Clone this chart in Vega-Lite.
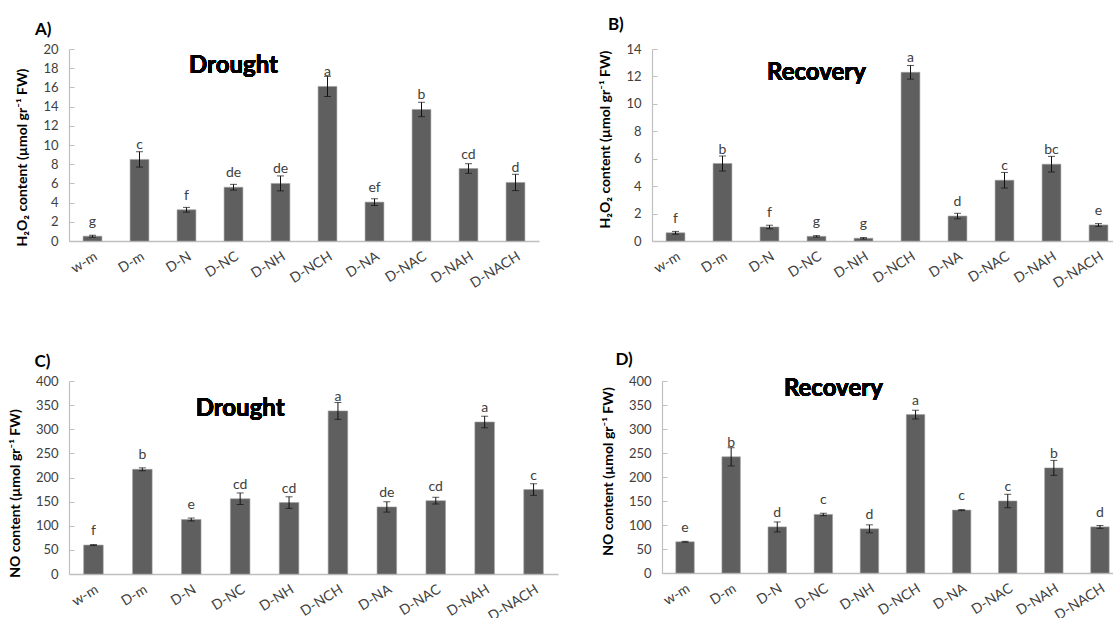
{
  "$schema": "https://vega.github.io/schema/vega-lite/v6.json",
  "padding": {"left": 8, "top": 16, "right": 0, "bottom": 0},
  "background": "white",
  "datasets": {
    "h2o2_drought": [
      {"t": "w-m", "mean": 0.5, "err": 0.1, "letter": "g"},
      {"t": "D-m", "mean": 8.5, "err": 0.8, "letter": "c"},
      {"t": "D-N", "mean": 3.25, "err": 0.25, "letter": "f"},
      {"t": "D-NC", "mean": 5.6, "err": 0.3, "letter": "de"},
      {"t": "D-NH", "mean": 6.0, "err": 0.78, "letter": "de"},
      {"t": "D-NCH", "mean": 16.1, "err": 1.05, "letter": "a"},
      {"t": "D-NA", "mean": 4.05, "err": 0.35, "letter": "ef"},
      {"t": "D-NAC", "mean": 13.7, "err": 0.75, "letter": "b"},
      {"t": "D-NAH", "mean": 7.55, "err": 0.5, "letter": "cd"},
      {"t": "D-NACH", "mean": 6.1, "err": 0.85, "letter": "d"}
    ],
    "h2o2_recovery": [
      {"t": "w-m", "mean": 0.6, "err": 0.1, "letter": "f"},
      {"t": "D-m", "mean": 5.65, "err": 0.55, "letter": "b"},
      {"t": "D-N", "mean": 1.02, "err": 0.13, "letter": "f"},
      {"t": "D-NC", "mean": 0.34, "err": 0.05, "letter": "g"},
      {"t": "D-NH", "mean": 0.2, "err": 0.05, "letter": "g"},
      {"t": "D-NCH", "mean": 12.3, "err": 0.5, "letter": "a"},
      {"t": "D-NA", "mean": 1.82, "err": 0.2, "letter": "d"},
      {"t": "D-NAC", "mean": 4.43, "err": 0.57, "letter": "c"},
      {"t": "D-NAH", "mean": 5.6, "err": 0.57, "letter": "bc"},
      {"t": "D-NACH", "mean": 1.17, "err": 0.1, "letter": "e"}
    ],
    "no_drought": [
      {"t": "w-m", "mean": 60, "err": 1, "letter": "f"},
      {"t": "D-m", "mean": 217, "err": 3, "letter": "b"},
      {"t": "D-N", "mean": 113, "err": 3, "letter": "e"},
      {"t": "D-NC", "mean": 156, "err": 12, "letter": "cd"},
      {"t": "D-NH", "mean": 148, "err": 12, "letter": "cd"},
      {"t": "D-NCH", "mean": 338, "err": 17.5, "letter": "a"},
      {"t": "D-NA", "mean": 139, "err": 10.7, "letter": "de"},
      {"t": "D-NAC", "mean": 152, "err": 7, "letter": "cd"},
      {"t": "D-NAH", "mean": 315, "err": 12, "letter": "a"},
      {"t": "D-NACH", "mean": 175, "err": 12, "letter": "c"}
    ],
    "no_recovery": [
      {"t": "w-m", "mean": 65, "err": 1, "letter": "e"},
      {"t": "D-m", "mean": 242, "err": 19, "letter": "b"},
      {"t": "D-N", "mean": 96, "err": 10.4, "letter": "d"},
      {"t": "D-NC", "mean": 122, "err": 2.5, "letter": "c"},
      {"t": "D-NH", "mean": 92, "err": 8.3, "letter": "d"},
      {"t": "D-NCH", "mean": 330, "err": 9, "letter": "a"},
      {"t": "D-NA", "mean": 131, "err": 1, "letter": "c"},
      {"t": "D-NAC", "mean": 150, "err": 14, "letter": "c"},
      {"t": "D-NAH", "mean": 219, "err": 15.6, "letter": "b"},
      {"t": "D-NACH", "mean": 96, "err": 3, "letter": "d"}
    ]
  },
  "vconcat": [
    {
      "hconcat": [
        {
          "title": {"text": "A)", "offset": 4, "dx": 19},
          "width": 470, "height": 192,
          "data": {"name": "h2o2_drought"},
          "encoding": {
            "x": {"field": "t", "type": "nominal", "sort": null, "scale": {"paddingInner": 0.6, "paddingOuter": 0.3}},
            "y": {"field": "mean", "type": "quantitative", "scale": {"domain": [0, 20]},
                  "axis": {"title": "H₂O₂ content (µmol gr⁻¹ FW)", "titleY": 108, "values": [0,2,4,6,8,10,12,14,16,18,20]}}
          },
          "layer": [
            {"mark": {"type": "bar", "color": "#5f5f5f", "stroke": "#a0a0a0", "strokeWidth": 0.6}},
            {"mark": {"type": "errorbar", "color": "#111111", "ticks": {"size": 7}}, "encoding": {"yError": {"field": "err"}}},
            {"mark": {"type": "text", "dy": -10, "baseline": "alphabetic", "fontSize": 14, "font": "Lato", "color": "#404040"}, "encoding": {"text": {"field": "letter"}}},
            {"mark": {"type": "text", "text": "Drought", "fontSize": 24, "fontWeight": "bold", "font": "Lato", "color": "#000000"},
             "encoding": {"x": {"datum": "D-NC"}, "y": {"datum": 18.2}}}
          ]
        },
        {
          "title": {"text": "B)", "offset": 9, "dx": 9},
          "width": 470, "height": 192,
          "data": {"name": "h2o2_recovery"},
          "encoding": {
            "x": {"field": "t", "type": "nominal", "sort": null, "scale": {"paddingInner": 0.6, "paddingOuter": 0.3}},
            "y": {"field": "mean", "type": "quantitative", "scale": {"domain": [0, 14]},
                  "axis": {"title": "H₂O₂ content (µmol gr⁻¹ FW)", "titleY": 90, "values": [0,2,4,6,8,10,12,14]}}
          },
          "layer": [
            {"mark": {"type": "bar", "color": "#5f5f5f", "stroke": "#a0a0a0", "strokeWidth": 0.6}},
            {"mark": {"type": "errorbar", "color": "#111111", "ticks": {"size": 7}}, "encoding": {"yError": {"field": "err"}}},
            {"mark": {"type": "text", "dy": -10, "baseline": "alphabetic", "fontSize": 14, "font": "Lato", "color": "#404040"}, "encoding": {"text": {"field": "letter"}}},
            {"mark": {"type": "text", "text": "Recovery", "fontSize": 24, "fontWeight": "bold", "font": "Lato", "color": "#000000"},
             "encoding": {"x": {"datum": "D-NC"}, "y": {"datum": 12.25}}}
          ]
        }
      ],
      "spacing": 59
    },
    {
      "hconcat": [
        {
          "title": {"text": "C)", "offset": 4, "dx": 26},
          "width": 489, "height": 193,
          "data": {"name": "no_drought"},
          "encoding": {
            "x": {"field": "t", "type": "nominal", "sort": null, "scale": {"paddingInner": 0.6, "paddingOuter": 0.3}},
            "y": {"field": "mean", "type": "quantitative", "scale": {"domain": [0, 400]},
                  "axis": {"title": "NO content (µmol gr⁻¹ FW)", "titleY": 112, "values": [0,50,100,150,200,250,300,350,400]}}
          },
          "layer": [
            {"mark": {"type": "bar", "color": "#5f5f5f", "stroke": "#a0a0a0", "strokeWidth": 0.6}},
            {"mark": {"type": "errorbar", "color": "#111111", "ticks": {"size": 7}}, "encoding": {"yError": {"field": "err"}}},
            {"mark": {"type": "text", "dy": -10, "baseline": "alphabetic", "fontSize": 14, "font": "Lato", "color": "#404040"}, "encoding": {"text": {"field": "letter"}}},
            {"mark": {"type": "text", "text": "Drought", "fontSize": 24, "fontWeight": "bold", "font": "Lato", "color": "#000000"},
             "encoding": {"x": {"datum": "D-NC"}, "y": {"datum": 342}}}
          ]
        },
        {
          "title": {"text": "D)", "offset": 6, "dx": 14},
          "width": 461, "height": 192,
          "data": {"name": "no_recovery"},
          "encoding": {
            "x": {"field": "t", "type": "nominal", "sort": null, "scale": {"paddingInner": 0.6, "paddingOuter": 0.3}},
            "y": {"field": "mean", "type": "quantitative", "scale": {"domain": [0, 400]},
                  "axis": {"title": "NO content (µmol gr⁻¹ FW)", "titleY": 90, "values": [0,50,100,150,200,250,300,350,400]}}
          },
          "layer": [
            {"mark": {"type": "bar", "color": "#5f5f5f", "stroke": "#a0a0a0", "strokeWidth": 0.6}},
            {"mark": {"type": "errorbar", "color": "#111111", "ticks": {"size": 7}}, "encoding": {"yError": {"field": "err"}}},
            {"mark": {"type": "text", "dy": -10, "baseline": "alphabetic", "fontSize": 14, "font": "Lato", "color": "#404040"}, "encoding": {"text": {"field": "letter"}}},
            {"mark": {"type": "text", "text": "Recovery", "fontSize": 24, "fontWeight": "bold", "font": "Lato", "color": "#000000", "dx": 10},
             "encoding": {"x": {"datum": "D-NC"}, "y": {"datum": 383}}}
          ]
        }
      ],
      "spacing": 43
    }
  ],
  "spacing": 60,
  "config": {
    "view": {"stroke": null},
    "font": "Lato",
    "title": {"font": "Lato", "fontSize": 17, "fontWeight": "bold", "anchor": "start", "frame": "bounds", "color": "#000000"},
    "axis": {"domainColor": "#bfbfbf", "tickColor": "#bfbfbf", "labelColor": "#404040", "labelFont": "Lato", "labelFontSize": 13,
             "titleFont": "Lato", "titleFontSize": 14, "titleFontWeight": "bold", "titleColor": "#000000", "grid": false},
    "axisX": {"ticks": false, "labelAngle": -32, "title": null, "labelPadding": 8, "labelFontSize": 14, "domainWidth": 1.5},
    "axisY": {"tickSize": -5, "labelPadding": 16, "titlePadding": 13, "domainWidth": 1.2}
  }
}
